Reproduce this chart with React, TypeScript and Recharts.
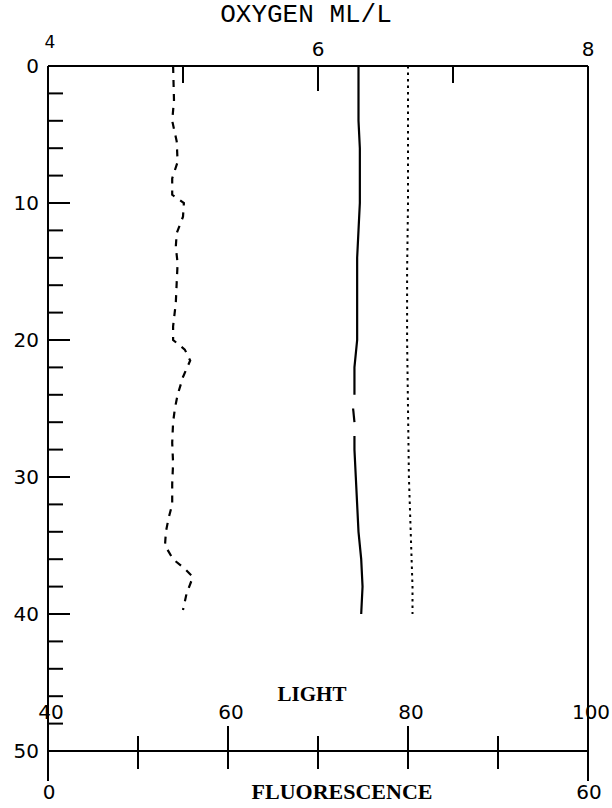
import React from "react";
import { LineChart, Line, XAxis, YAxis } from "recharts";

// depth axis (m), 0 at the top
const depthTicks = [0, 2, 4, 6, 8, 10, 12, 14, 16, 18, 20, 22, 24, 26, 28, 30, 32, 34, 36, 38, 40, 42, 44, 46, 48, 50];
const depthLabels = [0, 10, 20, 30, 40, 50];
const rightTicks = [1.8, 4.2, 6.6, 9.0, 11.4, 13.8, 16.2, 18.6, 21.0, 23.4, 25.8, 28.2, 30.6, 33.0, 35.4, 37.8, 40.2, 42.6, 45.0, 47.4];

const oxygenTicks = [4, 5, 6, 7, 8];
const oxygenLabels = [4, 6, 8];
const lightTicks = [40, 60, 80, 100];
const fluorTicks = [0, 10, 20, 30, 40, 50, 60];

// solid line: oxygen (null = break in the trace)
const oxygenDepth = [0, 2, 4, 6, 8, 10, 12, 14, 16, 18, 20, 22, 24, 24.5, 25, 26, 26.5, 27, 28, 30, 32, 34, 36, 38, 40];
const oxygenValues = [6.3, 6.3, 6.3, 6.31, 6.31, 6.31, 6.3, 6.29, 6.29, 6.29, 6.29, 6.27, 6.27, null, 6.26, 6.27, null, 6.27, 6.27, 6.28, 6.29, 6.3, 6.32, 6.33, 6.32];

// dotted line: light
const lightDepth = [0, 5, 10, 15, 20, 25, 30, 34, 38, 40];
const lightValues = [80.0, 80.0, 80.0, 79.9, 79.9, 80.0, 80.1, 80.3, 80.5, 80.5];

// dashed line: fluorescence
const fluorDepth = [0, 2.5, 4, 5.5, 7, 8.2, 9.4, 10, 11, 12.2, 13.2, 14.4, 15.8, 17.3, 19, 20, 20.7, 21.5, 22.7, 24, 25, 26, 27.5, 29, 30.5, 32, 33, 34, 35, 36, 36.7, 37.3, 38.5, 39.7];
const fluorValues = [13.9, 14.0, 13.8, 14.3, 14.4, 13.8, 13.8, 15.1, 15.0, 14.3, 14.2, 14.4, 14.3, 14.2, 13.9, 13.9, 15.2, 15.8, 15.0, 14.4, 14.1, 13.9, 13.8, 13.9, 13.8, 13.8, 13.4, 13.1, 13.0, 13.9, 15.2, 16.1, 15.4, 15.0];

// split a trace into pieces wherever the value is missing
const toSegments = (depths: number[], values: (number | null)[]) => {
  const segs: { depth: number; value: number }[][] = [[]];
  depths.forEach((d, i) => {
    const v = values[i];
    if (v == null) segs.push([]);
    else segs[segs.length - 1].push({ depth: d, value: v });
  });
  return segs.filter((s) => s.length > 1);
};

const oxygenSegments = toSegments(oxygenDepth, oxygenValues);
const lightData = lightDepth.map((d, i) => ({ depth: d, value: lightValues[i] }));
const fluorData = fluorDepth.map((d, i) => ({ depth: d, value: fluorValues[i] }));

const numFont = "DejaVu Sans";
const ink = "#000";

const LeftTick = (props: any) => {
  const { x, y, payload } = props;
  const v = payload.value;
  const major = v % 10 === 0;
  return (
    <g>
      {v > 0 && v < 50 && (
        <line x1={x} y1={y} x2={x + (major ? 22 : 15)} y2={y} stroke={ink} strokeWidth={2} />
      )}
      {depthLabels.includes(v) && (
        <text x={x - 9} y={y} dy={7} textAnchor="end" fontFamily={numFont} fontSize={20} fill={ink}>
          {v}
        </text>
      )}
    </g>
  );
};

const RightTick = (props: any) => {
  const { x, y } = props;
  return <line x1={x} y1={y} x2={x - 15} y2={y} stroke={ink} strokeWidth={2} />;
};

const TopTick = (props: any) => {
  const { x, y, payload } = props;
  const v = payload.value;
  const len = v === 6 ? 25 : 17;
  return (
    <g>
      {v > 4 && v < 8 && <line x1={x} y1={y} x2={x} y2={y + len} stroke={ink} strokeWidth={2} />}
      {oxygenLabels.includes(v) && (
        <text
          x={v === 4 ? x + 2 : x}
          y={v === 4 ? y - 18 : y - 10}
          textAnchor="middle"
          fontFamily={numFont}
          fontSize={v === 4 ? 17 : 20}
          fill={ink}
        >
          {v}
        </text>
      )}
    </g>
  );
};

const LightTick = (props: any) => {
  const { x, y, payload } = props;
  const v = payload.value;
  return (
    <g>
      {v > 40 && v < 100 && <line x1={x} y1={y} x2={x} y2={y - 26} stroke={ink} strokeWidth={2} />}
      <text x={x + 3} y={y - 33} textAnchor="middle" fontFamily={numFont} fontSize={20} fill={ink}>
        {v}
      </text>
    </g>
  );
};

const FluorTick = (props: any) => {
  const { x, y, payload } = props;
  const v = payload.value;
  const edge = v === 0 || v === 60;
  return (
    <g>
      <line x1={x} y1={edge ? y : y - 15} x2={x} y2={y + (edge ? 30 : 18)} stroke={ink} strokeWidth={2} />
      {edge && (
        <text x={x + 1} y={y + 48} textAnchor="middle" fontFamily={numFont} fontSize={20} fill={ink}>
          {v}
        </text>
      )}
    </g>
  );
};

const oxygenTitle = (props: any) => {
  const { x, y, width } = props.viewBox;
  return (
    <text x={x + width / 2 - 12} y={y - 43} textAnchor="middle" fontFamily="Liberation Mono" fontSize={26} fill={ink}>
      OXYGEN ML/L
    </text>
  );
};

const lightTitle = (props: any) => {
  const { x, y, width } = props.viewBox;
  return (
    <text x={x + width / 2 - 6} y={y - 51} textAnchor="middle" fontFamily="Liberation Serif" fontWeight="bold" fontSize={21} fill={ink}>
      LIGHT
    </text>
  );
};

const fluorTitle = (props: any) => {
  const { x, y, width } = props.viewBox;
  return (
    <text x={x + width / 2 + 24} y={y + 48} textAnchor="middle" fontFamily="Liberation Serif" fontWeight="bold" fontSize={22} fill={ink}>
      FLUORESCENCE
    </text>
  );
};

const App = () => {
  return (
    <div style={{ position: "absolute", left: 0, top: 0, width: 612, height: 808, background: "#fff" }}>
      <LineChart
        layout="vertical"
        width={612}
        height={808}
        margin={{ top: 65, right: 23, bottom: 55, left: 47 }}
      >
        <YAxis
          yAxisId="depth"
          type="number"
          dataKey="depth"
          domain={[0, 50]}
          ticks={depthTicks}
          interval={0}
          width={1}
          tickSize={0}
          tickMargin={0}
          tickLine={false}
          axisLine={{ stroke: ink, strokeWidth: 2 }}
          tick={LeftTick}
        />
        <YAxis
          yAxisId="right"
          orientation="right"
          type="number"
          dataKey="depth"
          domain={[0, 50]}
          ticks={rightTicks}
          interval={0}
          width={1}
          tickSize={0}
          tickMargin={0}
          tickLine={false}
          axisLine={{ stroke: ink, strokeWidth: 2 }}
          tick={RightTick}
        />
        <XAxis
          xAxisId="oxy"
          orientation="top"
          type="number"
          domain={[4, 8]}
          ticks={oxygenTicks}
          interval={0}
          height={1}
          tickSize={0}
          tickMargin={0}
          tickLine={false}
          axisLine={{ stroke: ink, strokeWidth: 2 }}
          tick={TopTick}
          label={oxygenTitle}
        />
        <XAxis
          xAxisId="light"
          orientation="bottom"
          type="number"
          domain={[40, 100]}
          ticks={lightTicks}
          interval={0}
          height={1}
          tickSize={0}
          tickMargin={0}
          tickLine={false}
          axisLine={false}
          tick={LightTick}
          label={lightTitle}
        />
        <XAxis
          xAxisId="fl"
          orientation="bottom"
          type="number"
          domain={[0, 60]}
          ticks={fluorTicks}
          interval={0}
          height={1}
          tickSize={0}
          tickMargin={0}
          tickLine={false}
          axisLine={{ stroke: ink, strokeWidth: 2 }}
          tick={FluorTick}
          label={fluorTitle}
        />
        {oxygenSegments.map((seg, i) => (
          <Line
            key={`oxy-${i}`}
            xAxisId="oxy"
            yAxisId="depth"
            data={seg}
            dataKey="value"
            type="linear"
            stroke={ink}
            strokeWidth={2.2}
            dot={false}
            isAnimationActive={false}
          />
        ))}
        <Line
          xAxisId="light"
          yAxisId="depth"
          data={lightData}
          dataKey="value"
          type="linear"
          stroke={ink}
          strokeWidth={2}
          strokeDasharray="2.5 4"
          dot={false}
          isAnimationActive={false}
        />
        <Line
          xAxisId="fl"
          yAxisId="depth"
          data={fluorData}
          dataKey="value"
          type="linear"
          stroke={ink}
          strokeWidth={2.2}
          strokeDasharray="7 7"
          dot={false}
          isAnimationActive={false}
        />
      </LineChart>
    </div>
  );
};

export default App;
